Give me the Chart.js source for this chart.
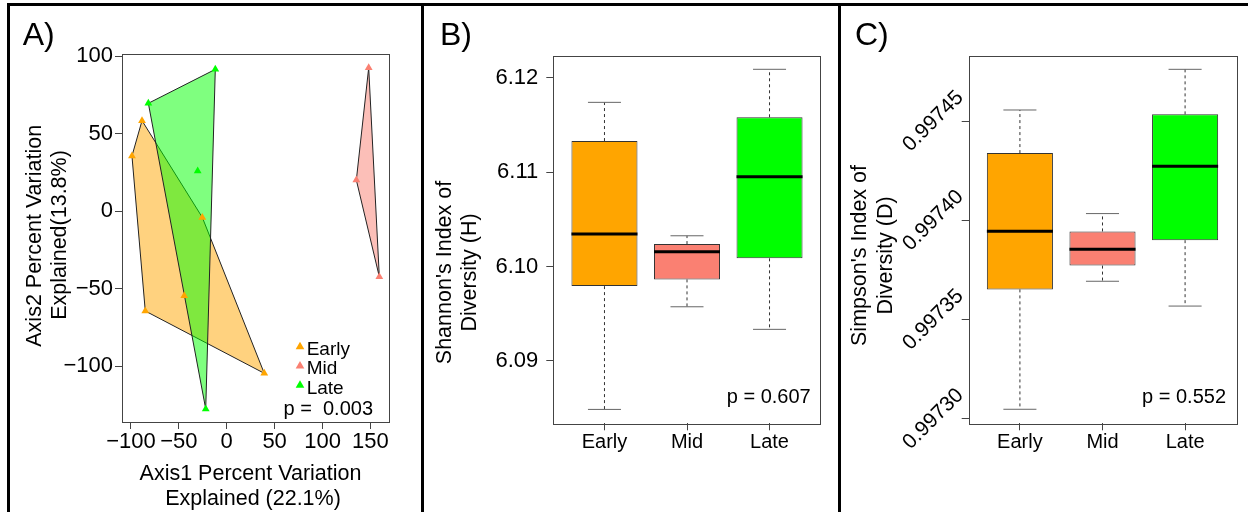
<!DOCTYPE html>
<html><head><meta charset="utf-8">
<script src="https://cdn.jsdelivr.net/npm/chart.js@4.4.1/dist/chart.umd.min.js"></script>
<style>
html,body{margin:0;padding:0;background:#fff;width:1248px;height:512px;overflow:hidden;}
canvas{position:absolute;top:0;}
.rule{position:absolute;background:#000;}
</style></head><body>
<canvas id="cA" width="421" height="512" style="left:0px"></canvas>
<canvas id="cB" width="414" height="512" style="left:424px"></canvas>
<canvas id="cC" width="407" height="512" style="left:841px"></canvas>
<div class="rule" style="left:7px;top:3px;width:1241px;height:3px"></div>
<div class="rule" style="left:7px;top:3px;width:3px;height:509px"></div>
<div class="rule" style="left:421px;top:3px;width:3px;height:509px"></div>
<div class="rule" style="left:838px;top:3px;width:3px;height:509px"></div>
<script>
// ---------------- data ----------------
const groups = ['Early', 'Mid', 'Late'];
const groupColors = ['#FFA500', '#FA8072', '#00FF00'];
const hullFills = ['rgba(255,165,0,0.5)', 'rgba(250,128,114,0.5)', 'rgba(0,255,0,0.5)'];

// Panel A: PCoA coordinates
const earlyAxis1 = [-88.4, -98.9, -85.0, 39.2, -25.5, -44.3];
const earlyAxis2 = [58.5, 35.7, -64.3, -104.5, -3.9, -54.5];
const midAxis1 = [148.2, 135.3, 159.3];
const midAxis2 = [92.6, 20.2, -42.2];
const lateAxis1 = [-11.9, -81.8, -30.3, -21.9];
const lateAxis2 = [91.6, 69.7, 26.0, -127.5];
const pcoaTicksX = [-100, -50, 0, 50, 100, 150];
const pcoaTicksY = [-100, -50, 0, 50, 100];
const pcoaP = '0.003';

// Panel B: Shannon diversity box statistics
const shannonMin = [6.08487, 6.09574, 6.09335];
const shannonQ1 = [6.09793, 6.09864, 6.10087];
const shannonMedian = [6.10344, 6.10157, 6.10951];
const shannonQ3 = [6.11329, 6.10238, 6.11581];
const shannonMax = [6.11739, 6.10326, 6.12089];
const shannonTicks = [6.09, 6.10, 6.11, 6.12];
const shannonP = '0.607';

// Panel C: Simpson diversity box statistics
const simpsonMin = [0.9973049, 0.9973694, 0.9973569];
const simpsonQ1 = [0.9973653, 0.9973773, 0.9973901];
const simpsonMedian = [0.9973946, 0.9973855, 0.9974273];
const simpsonQ3 = [0.9974340, 0.9973945, 0.9974535];
const simpsonMax = [0.9974557, 0.9974035, 0.9974762];
const simpsonTicks = [0.99730, 0.99735, 0.99740, 0.99745];
const simpsonP = '0.552';

// ---------------- setup ----------------
const FONT = '"Liberation Sans", Arial, Helvetica, sans-serif';
Chart.defaults.font.family = FONT;
Chart.defaults.color = '#000';
const AXIS_COLOR = '#444';

const framePlugin = {
  id: 'frame',
  afterDatasetsDraw(chart) {
    const {ctx, chartArea: a} = chart;
    ctx.save();
    ctx.strokeStyle = AXIS_COLOR;
    ctx.lineWidth = 1;
    ctx.strokeRect(Math.round(a.left) + 0.5, Math.round(a.top) + 0.5,
      Math.round(a.right - a.left), Math.round(a.bottom - a.top));
    ctx.restore();
  }
};

const textPlugin = {
  id: 'texts',
  afterDraw(chart, args, opts) {
    const ctx = chart.ctx;
    for (const it of (opts.items || [])) {
      ctx.save();
      ctx.font = it.size + 'px ' + FONT;
      ctx.fillStyle = '#000';
      ctx.textAlign = it.align || 'left';
      ctx.textBaseline = 'alphabetic';
      ctx.translate(it.x, it.y);
      if (it.rot) ctx.rotate(it.rot * Math.PI / 180);
      ctx.fillText(it.t, 0, 0);
      ctx.restore();
    }
    const lg = opts.legend;
    if (lg) {
      groups.forEach((g, i) => {
        const y = lg.y + i * lg.step;
        ctx.save();
        ctx.fillStyle = groupColors[i];
        Chart.helpers.drawPoint(ctx, {pointStyle: 'triangle', radius: lg.r, borderWidth: 0, rotation: 0}, lg.x, y);
        ctx.fillStyle = '#000';
        ctx.font = lg.size + 'px ' + FONT;
        ctx.textAlign = 'left';
        ctx.textBaseline = 'alphabetic';
        ctx.fillText(g, lg.x + 6.7, y + 8.3);
        ctx.restore();
      });
    }
  }
};

const minusFmt = v => (v < 0 ? '\u2212' + Math.abs(v) : String(v));

function hull(xs, ys) {
  const pts = xs.map((x, i) => ({x, y: ys[i]})).sort((a, b) => a.x - b.x || a.y - b.y);
  const cross = (o, a, b) => (a.x - o.x) * (b.y - o.y) - (a.y - o.y) * (b.x - o.x);
  const lower = [], upper = [];
  for (const p of pts) {
    while (lower.length >= 2 && cross(lower[lower.length - 2], lower[lower.length - 1], p) <= 0) lower.pop();
    lower.push(p);
  }
  for (let i = pts.length - 1; i >= 0; i--) {
    const p = pts[i];
    while (upper.length >= 2 && cross(upper[upper.length - 2], upper[upper.length - 1], p) <= 0) upper.pop();
    upper.push(p);
  }
  upper.pop(); lower.pop();
  const h = lower.concat(upper);
  h.push(h[0]);
  return h;
}

function linAxis(min, max, tickVals, fmt, fontSize, pad, fitKey, fitVal, extraTicks) {
  return {
    type: 'linear', min, max, bounds: 'data', offset: false, beginAtZero: false,
    afterBuildTicks: s => { s.ticks = tickVals.map(v => ({value: v})); },
    afterFit: s => { s[fitKey] = fitVal; },
    ticks: Object.assign({callback: fmt, font: {size: fontSize}, padding: pad, autoSkip: false, maxRotation: 0, color: '#000'}, extraTicks || {}),
    grid: {drawOnChartArea: false, drawTicks: true, tickLength: 7, color: AXIS_COLOR, lineWidth: 1, offset: false},
    border: {display: false}
  };
}

// ---------------- Panel A ----------------
const axis1 = [earlyAxis1, midAxis1, lateAxis1];
const axis2 = [earlyAxis2, midAxis2, lateAxis2];
const dsA = [];
groups.forEach((g, i) => {
  dsA.push({
    label: g, type: 'scatter',
    data: axis1[i].map((x, j) => ({x, y: axis2[i][j]})),
    pointStyle: 'triangle', pointRadius: 4.5, pointBackgroundColor: groupColors[i],
    pointBorderWidth: 0, showLine: false, order: 0
  });
});
groups.forEach((g, i) => {
  dsA.push({
    label: g + ' hull', type: 'scatter',
    data: hull(axis1[i], axis2[i]),
    showLine: true, fill: 'shape', backgroundColor: hullFills[i],
    borderColor: '#222', borderWidth: 1, pointRadius: 0, order: 3 - i
  });
});

new Chart(document.getElementById('cA'), {
  type: 'scatter',
  data: {datasets: dsA},
  options: {
    responsive: false, animation: false, devicePixelRatio: 1,
    layout: {padding: {left: 0, right: 32, top: 54, bottom: 0}},
    plugins: {
      legend: {display: false}, tooltip: {enabled: false},
      texts: {
        items: [
          {t: 'A)', x: 22.7, y: 45, size: 32},
          {t: 'Axis2 Percent Variation', x: 40.5, y: 235.8, size: 21.5, rot: -90, align: 'center'},
          {t: 'Explained(13.8%)', x: 66, y: 235, size: 21.5, rot: -90, align: 'center'},
          {t: 'Axis1 Percent Variation', x: 250.5, y: 480, size: 21.5, align: 'center'},
          {t: 'Explained (22.1%)', x: 253, y: 505, size: 21.5, align: 'center'},
          {t: 'p =  ' + pcoaP, x: 373, y: 415, size: 20, align: 'right'}
        ],
        legend: {x: 300, y: 346.7, step: 19.3, r: 5, size: 19}
      }
    },
    scales: {
      x: linAxis(-109.3, 169.4, pcoaTicksX, minusFmt, 22, 0, 'height', 90),
      y: linAxis(-135.9, 101.5, pcoaTicksY, minusFmt, 22, 2, 'width', 122)
    }
  },
  plugins: [framePlugin, textPlugin]
});

// ---------------- Box plots ----------------
function boxDatasets(mins, q1s, meds, q3s, maxs) {
  const halfBox = 0.4, halfCap = 0.2;
  const whisk = [], caps = [], medians = [], boxes = [];
  groups.forEach((g, i) => {
    const x = i + 1;
    whisk.push({x, y: q3s[i]}, {x, y: maxs[i]}, {x, y: null}, {x, y: q1s[i]}, {x, y: mins[i]}, {x, y: null});
    caps.push({x: x - halfCap, y: maxs[i]}, {x: x + halfCap, y: maxs[i]}, {x, y: null},
              {x: x - halfCap, y: mins[i]}, {x: x + halfCap, y: mins[i]}, {x, y: null});
    medians.push({x: x - halfBox, y: meds[i]}, {x: x + halfBox, y: meds[i]}, {x, y: null});
    boxes.push({x, y: [q1s[i], q3s[i]]});
  });
  return [
    {type: 'line', label: 'median', data: medians, borderColor: '#000', borderWidth: 3, pointRadius: 0, spanGaps: false, fill: false, order: 0},
    {type: 'bar', label: 'IQR', data: boxes, backgroundColor: groupColors, borderColor: '#333', borderWidth: 1,
     borderSkipped: false, barPercentage: 0.8, categoryPercentage: 1, order: 1},
    {type: 'line', label: 'caps', data: caps, borderColor: '#666', borderWidth: 1, pointRadius: 0, spanGaps: false, fill: false, order: 2},
    {type: 'line', label: 'whiskers', data: whisk, borderColor: '#333', borderWidth: 1, borderDash: [3, 3], pointRadius: 0, spanGaps: false, fill: false, order: 2}
  ];
}

const catFmt = v => groups[Math.round(v) - 1] || '';

function boxChart(id, ds, ymin, ymax, yTicks, yFmt, yFont, yPad, yWidth, rightPad, yExtra, texts) {
  new Chart(document.getElementById(id), {
    type: 'bar',
    data: {datasets: ds},
    options: {
      responsive: false, animation: false, devicePixelRatio: 1,
      layout: {padding: {left: 0, right: rightPad, top: 55.7, bottom: 0}},
      plugins: {legend: {display: false}, tooltip: {enabled: false}, texts: {items: texts}},
      scales: {
        x: linAxis(0.38, 3.62, [1, 2, 3], catFmt, 20, 0, 'height', 88.7),
        y: linAxis(ymin, ymax, yTicks, yFmt, yFont, yPad, 'width', yWidth, yExtra)
      }
    },
    plugins: [framePlugin, textPlugin]
  });
}

boxChart('cB', boxDatasets(shannonMin, shannonQ1, shannonMedian, shannonQ3, shannonMax),
  6.08340, 6.12233, shannonTicks, v => v.toFixed(2), 22, 8, 129.3, 17.3, null, [
    {t: 'B)', x: 16, y: 45, size: 32},
    {t: "Shannon's Index of", x: 26.5, y: 272.5, size: 21.5, rot: -90, align: 'center'},
    {t: 'Diversity (H)', x: 52, y: 272.5, size: 21.5, rot: -90, align: 'center'},
    {t: 'p = ' + shannonP, x: 386.7, y: 403.3, size: 20, align: 'right'}
  ]);

boxChart('cC', boxDatasets(simpsonMin, simpsonQ1, simpsonMedian, simpsonQ3, simpsonMax),
  0.99729783, 0.99748306, simpsonTicks, v => v.toFixed(5), 21, -9.5, 127.7, 11.7,
  {minRotation: 45, maxRotation: 45, crossAlign: 'center'}, [
    {t: 'C)', x: 14, y: 45, size: 32},
    {t: "Simpson's Index of", x: 24.5, y: 255.5, size: 21.5, rot: -90, align: 'center'},
    {t: 'Diversity (D)', x: 50.5, y: 255.5, size: 21.5, rot: -90, align: 'center'},
    {t: 'p = ' + simpsonP, x: 385, y: 402.7, size: 20, align: 'right'}
  ]);
</script>
</body></html>
